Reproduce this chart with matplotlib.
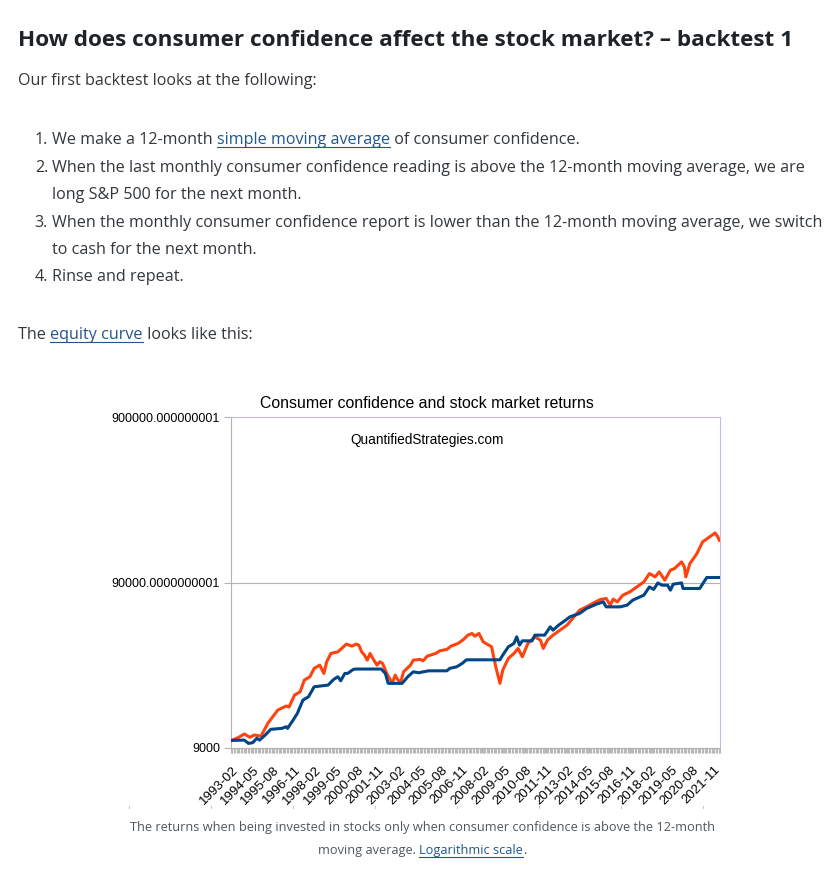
import numpy as np
import pandas as pd
import matplotlib
matplotlib.use("Agg")
import matplotlib.pyplot as plt
from matplotlib.lines import Line2D
from matplotlib.ticker import FixedLocator, NullLocator

W, H = 836, 875

# buy and hold S&P 500 (orange)
sp500_months = [
    "1993-02", "1993-07", "1993-11", "1994-03", "1994-06", "1994-11", "1995-04",
    "1995-11", "1996-05", "1996-07", "1996-11", "1997-03", "1997-06", "1997-10",
    "1998-01", "1998-05", "1998-08", "1998-10", "1999-01", "1999-06", "1999-10",
    "1999-12", "2000-04", "2000-07", "2000-09", "2000-11", "2001-01", "2001-03",
    "2001-05", "2001-07", "2001-10", "2001-12", "2002-02", "2002-05", "2002-07",
    "2002-09", "2002-11", "2003-01", "2003-03", "2003-05", "2003-10", "2003-12",
    "2004-05", "2004-07", "2004-10", "2005-04", "2005-07", "2005-12", "2006-03",
    "2006-08", "2006-12", "2007-03", "2007-06", "2007-08", "2007-11", "2008-02",
    "2008-06", "2008-08", "2008-11", "2009-02", "2009-04", "2009-08", "2009-12",
    "2010-03", "2010-06", "2010-10", "2011-03", "2011-07", "2011-09", "2011-12",
    "2012-04", "2012-09", "2013-02", "2013-07", "2013-11", "2014-04", "2014-09",
    "2015-02", "2015-06", "2015-09", "2015-11", "2016-02", "2016-06", "2016-11",
    "2017-04", "2017-09", "2018-01", "2018-05", "2018-08", "2018-12", "2019-04",
    "2019-07", "2019-12", "2020-02", "2020-03", "2020-06", "2020-11", "2021-03",
    "2021-08", "2021-12", "2022-02", "2022-03",
]
sp500_values = [
    10000, 10440, 10940, 10440, 10780, 10630, 12740,
    15260, 16140, 15910, 18800, 19680, 23160, 24250,
    27240, 28510, 25400, 29860, 33550, 34310, 36780,
    38190, 37140, 38190, 37650, 34310, 32770, 30570,
    33550, 31290, 28510, 29860, 29200, 25400, 23700,
    22120, 24820, 23160, 22610, 25980, 28510, 30570,
    30870, 30280, 32330, 33550, 34790, 35480, 37140,
    38550, 40760, 43270, 44300, 42670, 44300, 39420,
    37650, 36780, 27850, 22120, 26600, 31290, 33550,
    35970, 32000, 38550, 42270, 40370, 35970, 40370,
    43270, 46390, 49730, 55790, 61250, 64120, 67790,
    71070, 72060, 65650, 71360, 68740, 75470, 79000,
    84650, 90750, 101990, 97300, 104300, 92940, 106800,
    109400, 119900, 111800, 97300, 117200, 134700, 158200,
    169700, 179300, 169700, 162000,
]

# consumer confidence strategy (blue)
strategy_months = [
    "1993-02", "1993-11", "1994-02", "1994-05", "1994-08", "1994-10", "1995-02",
    "1995-06", "1996-02", "1996-05", "1996-06", "1996-10", "1997-01", "1997-05",
    "1997-09", "1998-01", "1998-11", "1999-03", "1999-06", "1999-08", "1999-11",
    "2000-01", "2000-05", "2000-07", "2002-01", "2002-04", "2002-06", "2003-04",
    "2003-08", "2003-12", "2004-04", "2004-07", "2004-11", "2005-12", "2006-02",
    "2006-07", "2006-11", "2007-02", "2009-02", "2009-04", "2009-08", "2009-12",
    "2010-02", "2010-04", "2010-06", "2011-01", "2011-03", "2011-10", "2012-02",
    "2012-04", "2012-08", "2013-01", "2013-04", "2013-11", "2014-04", "2014-11",
    "2015-04", "2015-06", "2016-04", "2016-09", "2017-01", "2017-09", "2018-01",
    "2018-04", "2018-07", "2018-10", "2019-02", "2019-04", "2019-06", "2019-12",
    "2020-01", "2021-01", "2021-04", "2021-06", "2022-03",
]
strategy_values = [
    10000, 10050, 9600, 9690, 10300, 10050, 10780,
    11670, 11830, 12100, 11830, 13280, 14580, 17540,
    18360, 21090, 21600, 23380, 24250, 22930, 25400,
    25400, 26860, 27000, 27000, 25400, 22120, 22120,
    24250, 25980, 25630, 25980, 26340, 26340, 27240,
    27850, 29200, 30700, 30700, 32770, 36780, 38550,
    42270, 37650, 39970, 39970, 43270, 43270, 48560,
    46390, 49730, 53300, 55790, 58500, 62700, 66560,
    68740, 64120, 64120, 65650, 70380, 75470, 84650,
    81660, 89500, 86690, 86690, 80870, 87890, 89500,
    82810, 82810, 90750, 96490, 96490,
]

all_months = pd.period_range("1993-02", "2022-03", freq="M")
tick_every = 15
y_ticks = [9000, 90000, 900000]
y_tick_labels = ["9000", "90000.0000000001", "900000.000000001"]

body = "Open Sans"
chart_font = "Liberation Sans"
text_col = "#32373c"
link_col = "#22568c"


def month_index(months):
    start = all_months[0]
    return [(pd.Period(m, freq="M") - start).n for m in months]


fig = plt.figure(figsize=(W / 100, H / 100), dpi=100)
fig.patch.set_facecolor("white")
renderer = fig.canvas.get_renderer()


def fx(x):
    return x / W


def fy(y):
    return 1 - y / H


def text_width(s, **kw):
    # advance width in px, keeps trailing spaces
    a = fig.text(0, 0, s + "|", **kw)
    b = fig.text(0, 0, "|", **kw)
    w = a.get_window_extent(renderer).width - b.get_window_extent(renderer).width
    a.remove()
    b.remove()
    return w


def put_line(x, y, parts, **kw):
    # parts: (text, colour, underline)
    done = ""
    for txt, col, under in parts:
        x0 = x + text_width(done, **kw) if done else x
        fig.text(fx(x0), fy(y), txt, color=col, va="baseline", ha="left", **kw)
        if under:
            w = text_width(txt, **kw)
            fig.add_artist(Line2D([fx(x0), fx(x0 + w)], [fy(y + 2.5)] * 2,
                                  color=col, lw=0.8))
        done += txt


def put_centered(cx, y, parts, **kw):
    full = "".join(p[0] for p in parts)
    w = text_width(full, **kw)
    put_line(cx - w / 2, y, parts, **kw)


# page text
head_kw = dict(family=body, fontsize=16.2, weight="bold")
put_line(18, 46, [("How does consumer confidence affect the stock market? \u2013 backtest 1",
                   "#1d2327", False)], **head_kw)

p_kw = dict(family=body, fontsize=11.6)
put_line(18, 85, [("Our first backtest looks at the following:", text_col, False)], **p_kw)

list_x = 52
rows = [
    (144, "1.", [("We make a 12-month ", text_col, False),
                 ("simple moving average", link_col, True),
                 (" of consumer confidence.", text_col, False)]),
    (172, "2.", [("When the last monthly consumer confidence reading is above the 12-month moving average, we are",
                  text_col, False)]),
    (199, "", [("long S&P 500 for the next month.", text_col, False)]),
    (227, "3.", [("When the monthly consumer confidence report is lower than the 12-month moving average, we switch",
                  text_col, False)]),
    (254, "", [("to cash for the next month.", text_col, False)]),
    (281, "4.", [("Rinse and repeat.", text_col, False)]),
]
for y, num, parts in rows:
    if num:
        fig.text(fx(list_x - 4), fy(y), num, ha="right", va="baseline",
                 color=text_col, **p_kw)
    put_line(list_x, y, parts, **p_kw)

put_line(18, 339, [("The ", text_col, False), ("equity curve", link_col, True),
                   (" looks like this:", text_col, False)], **p_kw)

# chart
ax = fig.add_axes([fx(231), fy(748), (720 - 231) / W, (748 - 417) / H])
ax.plot(month_index(sp500_months), sp500_values, color="#ff420e", lw=2.2,
        solid_joinstyle="round", zorder=3)
ax.plot(month_index(strategy_months), strategy_values, color="#004586", lw=2.2,
        solid_joinstyle="round", zorder=4)

ax.set_yscale("log")
ax.set_ylim(9000, 900000)
ax.set_xlim(-0.5, len(all_months) - 0.5)
ax.yaxis.set_major_locator(FixedLocator(y_ticks))
ax.yaxis.set_minor_locator(NullLocator())
ax.set_yticklabels(y_tick_labels, family=chart_font, fontsize=9)
ax.tick_params(axis="y", length=5, width=0.8, color="#b3b3b3", pad=3)

ticks = list(range(0, len(all_months), tick_every))
ax.set_xticks(ticks)
ax.set_xticklabels([str(all_months[i]) for i in ticks], rotation=45, ha="right",
                   va="top", rotation_mode="anchor", family=chart_font, fontsize=9.5)
ax.xaxis.set_minor_locator(FixedLocator(np.arange(-0.5, len(all_months), 1)))
ax.tick_params(axis="x", which="both", length=3.8, width=0.85, color="#b8b8b8", pad=7.5)

ax.grid(axis="y", color="#b3b3b3", lw=0.8)
for s in ["left", "bottom"]:
    ax.spines[s].set_color("#b3b3b3")
for s in ["top", "right"]:
    ax.spines[s].set_color("#cbb8dc")
for s in ax.spines.values():
    s.set_linewidth(0.8)

fig.text(fx(426.5), fy(403.5), "Consumer confidence and stock market returns",
         ha="center", va="center", family=chart_font, fontsize=11.4, color="black")
ax.text(0.4, 0.93, "QuantifiedStrategies.com", transform=ax.transAxes,
        ha="center", va="center", family=chart_font, fontsize=9.8, color="black")

# faint dotted separator under the chart
for x in range(129, 710, 82):
    fig.add_artist(Line2D([fx(x), fx(x)], [fy(806), fy(808)], color="#c8c8c8", lw=0.8))

cap_kw = dict(family=body, fontsize=9.2)
cap_col = "#50575e"
put_centered(422, 831, [("The returns when being invested in stocks only when consumer confidence is above the 12-month",
                         cap_col, False)], **cap_kw)
put_centered(422, 854, [("moving average. ", cap_col, False),
                        ("Logarithmic scale", link_col, True),
                        (".", cap_col, False)], **cap_kw)

fig.savefig("out.png", dpi=100, facecolor="white")
